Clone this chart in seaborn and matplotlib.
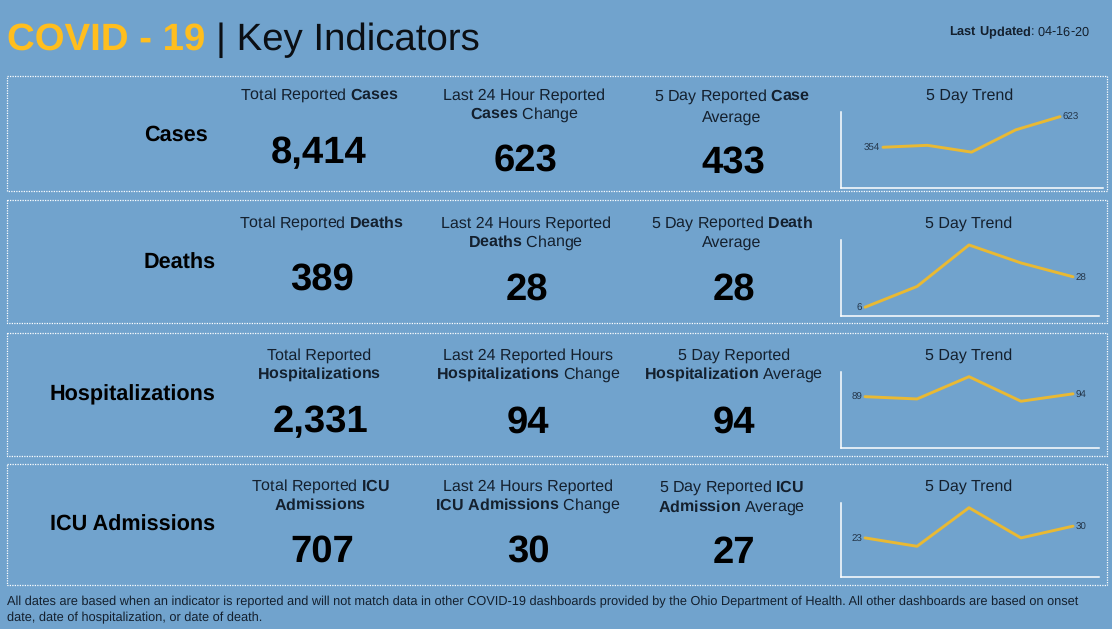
import matplotlib
matplotlib.use('Agg')
import matplotlib.pyplot as plt
from matplotlib.patches import Rectangle
import pandas as pd
import seaborn as sns

indicators = ['Cases', 'Deaths', 'Hospitalizations', 'ICU Admissions']
totals = ['8,414', '389', '2,331', '707']
last_24 = ['623', '28', '94', '30']
averages = ['433', '28', '94', '27']
days = [1, 2, 3, 4, 5]
trend_cases = [354, 371, 311, 507, 623]
trend_deaths = [6, 21, 51, 38, 28]
trend_hosp = [89, 85, 124, 81, 94]
trend_icu = [23, 18, 41, 23, 30]
trends = [trend_cases, trend_deaths, trend_hosp, trend_icu]
trend_tops = [664, 54.6, 132.2, 43.8]

total_heads = [[r'Total Reported $\mathbf{Cases}$'],
               [r'Total Reported $\mathbf{Deaths}$'],
               ['Total Reported', r'$\mathbf{Hospitalizations}$'],
               [r'Total Reported $\mathbf{ICU}$', r'$\mathbf{Admissions}$']]
change_heads = [['Last 24 Hour Reported', r'$\mathbf{Cases}$ Change'],
                ['Last 24 Hours Reported', r'$\mathbf{Deaths}$ Change'],
                ['Last 24 Reported Hours', r'$\mathbf{Hospitalizations}$ Change'],
                ['Last 24 Hours Reported', r'$\mathbf{ICU\ Admissions}$ Change']]
avg_heads = [[r'5 Day Reported $\mathbf{Case}$', 'Average'],
             [r'5 Day Reported $\mathbf{Death}$', 'Average'],
             ['5 Day Reported', r'$\mathbf{Hospitalization}$ Average'],
             [r'5 Day Reported $\mathbf{ICU}$', r'$\mathbf{Admission}$ Average']]

footer = ['All dates are based when an indicator is reported and will not match data in other COVID-19 dashboards provided by the Ohio Department of Health. All other dashboards are based on onset',
          'date, date of hospitalization, or date of death.']

# Layout in reference pixels, text y values are baselines
W, H = 1112, 629
BG = '#71A3CD'
YELLOW = '#FFBE1E'
LINE = '#E9B933'
INK = '#14202E'

boxes = [(76, 191), (200, 323), (332.5, 455.5), (463.5, 584.5)]
label_pos = [(207, 140.5), (215, 268.5), (215, 400.5), (215, 530.5)]
total_x = [319, 321, 319, 320]
change_x = [524, 526, 528, 528]
avg_x = [732, 732, 734, 732]
head_y = [[100, 119], [228, 247], [360, 379], [491, 510]]
avg_head_y = [[101, 122], [228, 247], [360, 379], [492, 512]]
value_xy = [[(319, 163), (526, 171), (733, 173)],
            [(322, 290), (527, 300), (734, 300)],
            [(321, 432), (528, 433), (734, 433)],
            [(322, 562), (528, 562), (734, 563)]]
trend_titles = [(970, 100), (969, 228), (969, 360), (969, 491)]
# left, right, top, bottom of each sparkline, then first and last point x
spark = [(840.5, 1103, 112, 187.5, 883, 1060),
         (840.5, 1099, 240, 315.5, 865, 1073),
         (840.5, 1099, 372, 447.5, 865, 1073),
         (840.5, 1099, 503, 576.5, 865, 1073)]

sns.set_theme(style='white')
plt.rcParams['font.family'] = ['Liberation Sans', 'DejaVu Sans']
plt.rcParams['mathtext.fontset'] = 'custom'
plt.rcParams['mathtext.rm'] = 'Liberation Sans'
plt.rcParams['mathtext.bf'] = 'Liberation Sans:bold'
plt.rcParams['mathtext.default'] = 'regular'
plt.rcParams['text.hinting'] = 'no_hinting'

fig = plt.figure(figsize=(W / 100, H / 100), dpi=100, facecolor=BG)

# page axes, works in pixels
page = fig.add_axes([0, 0, 1, 1])
page.set_xlim(0, W)
page.set_ylim(H, 0)
page.axis('off')

page.text(7, 50, 'COVID - 19', color=YELLOW, fontsize=27.6, fontweight='bold', va='baseline')
page.text(216, 50, '| Key Indicators', color='#0B0F14', fontsize=27.6, va='baseline')
page.text(1090, 36, r'$\mathbf{Last\ Updated}$: 04-16-20', color=INK, fontsize=9.15, ha='right', va='baseline')

for i, name in enumerate(indicators):
    top, bottom = boxes[i]
    page.add_patch(Rectangle((7, top), 1100, bottom - top, fill=False,
                             edgecolor='white', linewidth=0.9, linestyle=(0, (1, 1))))
    page.text(label_pos[i][0] + 0.5, label_pos[i][1], name, fontsize=15.6, fontweight='bold',
              color='black', ha='right', va='baseline')

    # one-line headers sit on the first row only
    for heads, xs, ys in [(total_heads, total_x, head_y), (change_heads, change_x, head_y),
                          (avg_heads, avg_x, avg_head_y)]:
        for line, y in zip(heads[i], ys[i]):
            page.text(xs[i], y, line, fontsize=11.5, color=INK, ha='center', va='baseline')

    for val, (x, y) in zip([totals[i], last_24[i], averages[i]], value_xy[i]):
        page.text(x, y, val, fontsize=27.5, fontweight='bold', color='black', ha='center', va='baseline')

    page.text(trend_titles[i][0], trend_titles[i][1], '5 Day Trend', fontsize=11.5,
              color=INK, ha='center', va='baseline')

    # sparkline, baseline of the y axis is zero
    left, right, t, b, first, last = spark[i]
    ax = fig.add_axes([left / W, 1 - b / H, (right - left) / W, (b - t) / H])
    df = pd.DataFrame({'day': days, 'value': trends[i]})
    sns.lineplot(data=df, x='day', y='value', color=LINE, linewidth=2.1, ax=ax)
    step = (last - first) / 4
    ax.set_xlim(days[0] - (first - left) / step, days[-1] + (right - last) / step)
    ax.set_ylim(0, trend_tops[i])
    ax.patch.set_alpha(0)
    ax.set_xticks([])
    ax.set_yticks([])
    ax.set_xlabel('')
    ax.set_ylabel('')
    sns.despine(ax=ax)
    ax.spines['left'].set_color('white')
    ax.spines['bottom'].set_color('white')
    ax.spines['left'].set_linewidth(1.1)
    ax.spines['bottom'].set_linewidth(1.1)
    ax.annotate(str(trends[i][0]), (days[0], trends[i][0]), xytext=(-2, -0.8), textcoords='offset points',
                ha='right', va='center', fontsize=7, color='#24364A')
    ax.annotate(str(trends[i][-1]), (days[-1], trends[i][-1]), xytext=(2, -0.8), textcoords='offset points',
                ha='left', va='center', fontsize=7, color='#24364A')

page.text(7, 605, footer[0], fontsize=9.2, color=INK, va='baseline')
page.text(7, 621, footer[1], fontsize=9.2, color=INK, va='baseline')

fig.savefig('out.png', dpi=100, facecolor=BG)
